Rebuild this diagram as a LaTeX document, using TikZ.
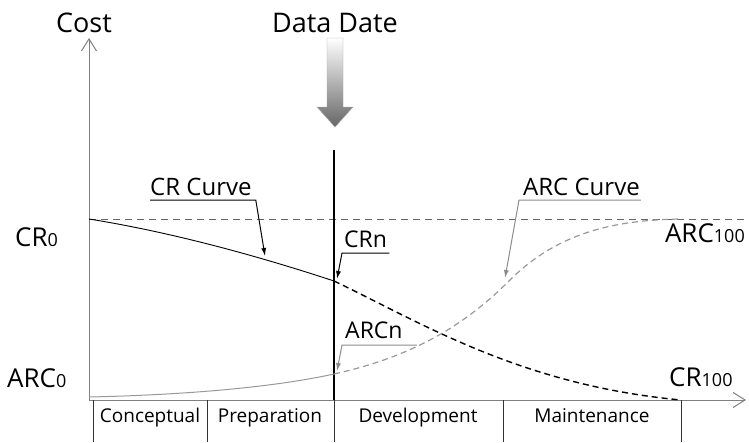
\documentclass[tikz,border=0pt]{standalone}
\usepackage{fontspec}
\setmainfont{Open Sans}
\usetikzlibrary{arrows.meta}

% small trailing index, as in CR0 or ARC100
\newcommand{\idx}[1]{{\fontsize{18}{18}\selectfont #1}}

\begin{document}
\begin{tikzpicture}[x=1pt, y=-1pt,
  axis/.style={draw=black!50, line width=1pt, -{Straight Barb[length=12pt,width=15pt]}},
  title/.style={font=\fontsize{27}{27}\selectfont, inner sep=0pt, anchor=base},
  value/.style={font=\fontsize{26}{26}\selectfont, inner sep=0pt},
  tag/.style={font=\fontsize{24}{24}\selectfont, inner sep=0pt, anchor=base west},
  phase/.style={font=\fontsize{19}{19}\selectfont, inner sep=0pt, anchor=base},
  crline/.style={draw=black, line width=0.9pt},
  arcline/.style={draw=black!40, line width=1.2pt},
  callout/.style={line width=1pt, -{Latex[length=8pt,width=5pt]}},
  refline/.style={draw=black!60, line width=0.8pt, dash pattern=on 7pt off 5pt}]
  \useasboundingbox (0,0) rectangle (749,442);

  \coordinate (O) at (89,400);
  \coordinate (cr0) at (89,219);
  \coordinate (crn) at (334,281);
  \coordinate (cr100) at (681,400);
  \coordinate (arc0) at (89,397);
  \coordinate (arcn) at (334,374);
  \coordinate (arc100) at (681,219);

  % axes
  \draw[axis] (O) -- (89,38);
  \draw[axis] (O) -- (746,400);
  \draw[refline] (cr0) -- (745,219);

  % phases
  \foreach \x in {93,207,334,503,681}
    \draw[black!80, line width=0.9pt] (\x,400) -- (\x,442);
  \node[phase] (concept) at (150,422) {Conceptual};
  \node[phase] (prep) at (270,422) {Preparation};
  \node[phase] (devel) at (418,422) {Development};
  \node[phase] (maint) at (592,422) {Maintenance};

  % data date
  \shade[top color=white, bottom color=black!60, draw=black!35]
    (327,38) -- (343,38) -- (343,107) -- (353,107) -- (335,127)
    -- (317,107) -- (327,107) -- cycle;
  \draw[black, line width=1.4pt] (334,150) -- (334,400);

  % curves
  \draw[crline] (cr0) .. controls (170,232) and (255,255) .. (crn);
  \draw[crline, line width=1.4pt, dash pattern=on 6pt off 4pt]
    (crn) .. controls (420,322) and (520,385) .. (cr100);
  \draw[arcline, line width=1pt] (arc0) .. controls (180,395) and (270,388) .. (arcn);
  \draw[arcline, dash pattern=on 6pt off 4pt]
    (arcn) .. controls (420,355) and (470,320) .. (510,280)
    .. controls (560,230) and (620,220) .. (arc100);

  % texts
  \node[title] (cost) at (84,32) {Cost};
  \node[title] (ddate) at (335,32) {Data Date};
  \node[value, anchor=base west] (crzero) at (15,246) {CR\idx{0}};
  \node[value, anchor=base west] (arczero) at (7,387) {ARC\idx{0}};
  \node[value, anchor=base east] (archund) at (745,242) {ARC\idx{100}};
  \node[value, anchor=base west] (crhund) at (669,386) {CR\idx{100}};

  % callouts
  \node[tag] (crlab) at (150,195) {CR Curve};
  \node[tag] (arclab) at (523,195) {ARC Curve};
  \node[tag, font=\fontsize{23}{23}\selectfont] (crnlab) at (344,247) {CRn};
  \node[tag, font=\fontsize{23}{23}\selectfont] (arcnlab) at (345,338) {ARCn};
  \coordinate (crtip) at (265,256);
  \coordinate (arctip) at (505,278);
  \coordinate (crntip) at (337,279);
  \coordinate (arcntip) at (337,371);
  \draw[callout] ([yshift=-5pt]crlab.base west) -- ([xshift=4pt,yshift=-5pt]crlab.base east) -- (crtip);
  \draw[callout, color=black!45] ([xshift=1pt,yshift=-5pt]arclab.base east)
    -- ([xshift=-4pt,yshift=-5pt]arclab.base west) -- (arctip);
  \draw[callout] ([xshift=2pt,yshift=-6pt]crnlab.base east) -- ([xshift=-2pt,yshift=-6pt]crnlab.base west) -- (crntip);
  \draw[callout, color=black!45] ([xshift=14pt,yshift=-7pt]arcnlab.base east)
    -- ([xshift=-3pt,yshift=-7pt]arcnlab.base west) -- (arcntip);
\end{tikzpicture}
\end{document}
